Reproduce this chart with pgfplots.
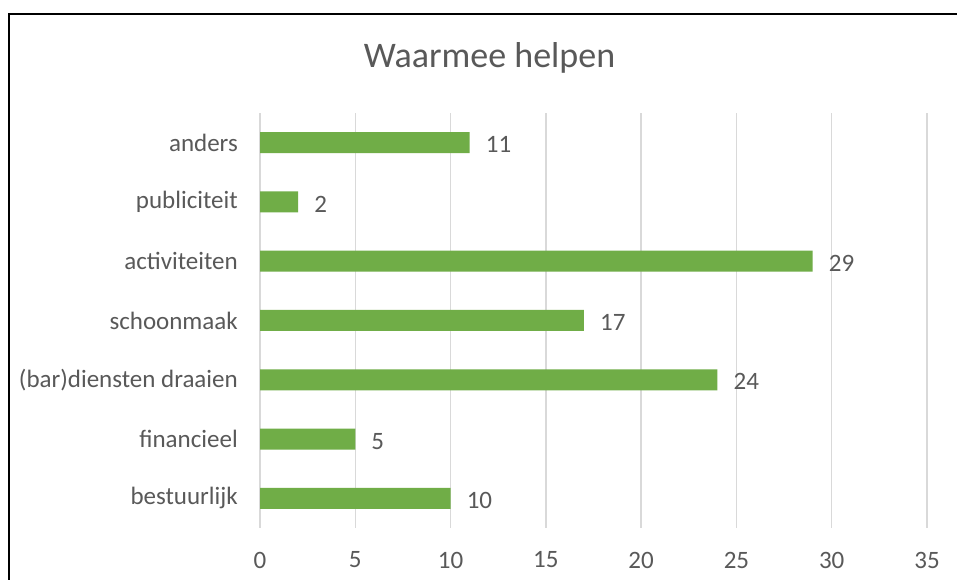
\documentclass[border=0pt]{standalone}
\usepackage{pgfplots}
\pgfplotsset{compat=1.18}
\usepackage{fontspec}
\setmainfont{Carlito}
\definecolor{bargreen}{HTML}{70AD47}
\definecolor{txtgray}{HTML}{595959}
\definecolor{gridgray}{HTML}{D9D9D9}
\begin{document}
\begin{tikzpicture}[x=1pt,y=1pt]
\useasboundingbox (0,0) rectangle (957,580);
\clip (0,0) rectangle (957,580);
\fill[white] (0,0) rectangle (957,580);
\draw[line width=2.2pt, black] (9,-20) -- (9,566) -- (990,566);
\node[text=txtgray, font=\fontsize{36}{42}\selectfont] at (489.5,522) {Waarmee helpen};
\begin{axis}[
  at={(260pt,52pt)}, anchor=south west,
  scale only axis, width=667pt, height=415pt,
  xmin=0, xmax=35, ymin=-0.5, ymax=6.5,
  xbar, bar width=21pt,
  axis line style={draw=none},
  major tick length=0pt,
  xtick={0,5,...,35},
  ytick={0,1,2,3,4,5,6},
  yticklabels={bestuurlijk,financieel,(bar)diensten draaien,schoonmaak,activiteiten,publiciteit,anders},
  xmajorgrids, ymajorgrids=false,
  grid style={color=gridgray, line width=1.4pt},
  /pgf/number format/assume math mode=true,
  ticklabel style={text=txtgray, font=\fontsize{25}{29}\selectfont},
  xticklabel style={anchor=center, yshift=-32pt, inner sep=0pt},
  yticklabel style={anchor=east, xshift=-22pt, inner sep=0pt},
  nodes near coords,
  every node near coord/.style={anchor=west, inner sep=0pt, xshift=16pt, yshift=-2pt, text=txtgray, font=\fontsize{25}{29}\selectfont},
]
\addplot[fill=bargreen, draw=none] coordinates {
  (10,0) (5,1) (24,2) (17,3) (29,4) (2,5) (11,6)
};
\end{axis}
\end{tikzpicture}
\end{document}
